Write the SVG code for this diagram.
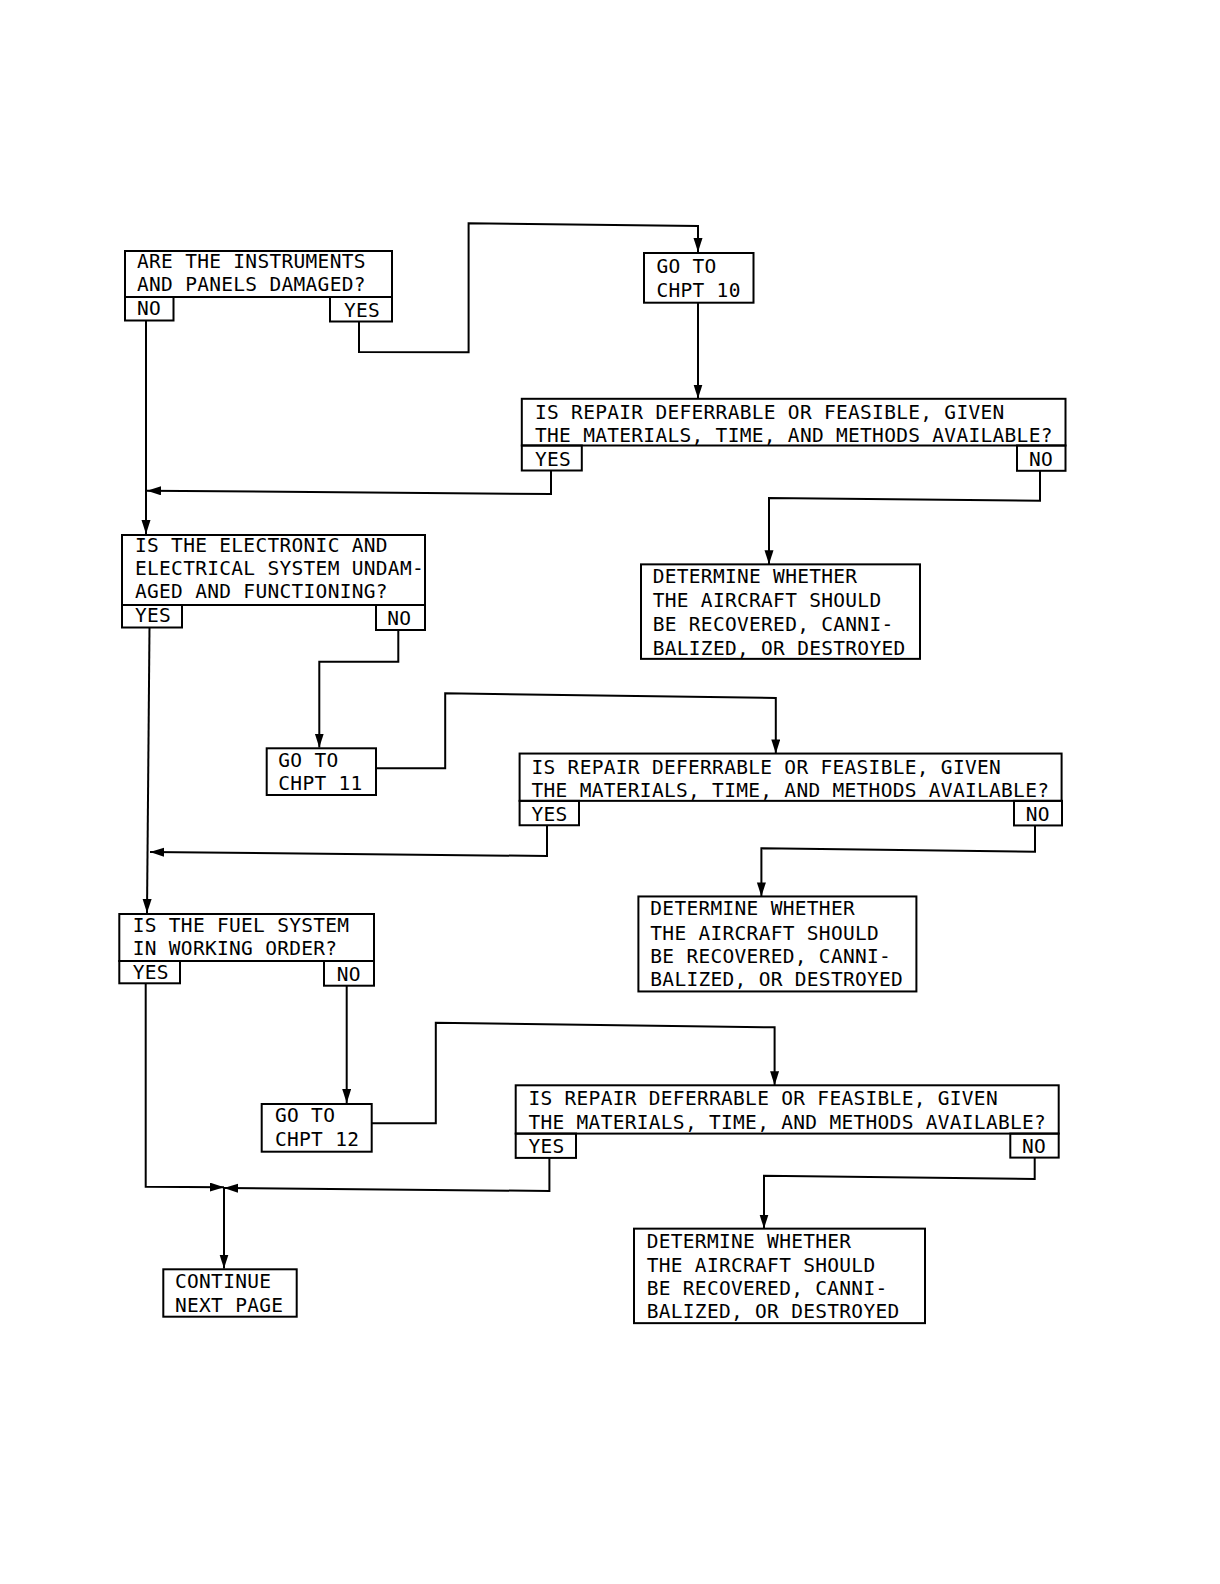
<svg xmlns="http://www.w3.org/2000/svg" width="1220" height="1584" viewBox="0 0 1220 1584">
<style>
rect{fill:none;stroke:#000;stroke-width:2}
text{font-family:"DejaVu Sans Mono","Liberation Mono",monospace;font-size:19.5px;letter-spacing:0.3px;fill:#000}
.c{fill:none;stroke:#000;stroke-width:2}
</style>
<defs>
<marker id="ah" markerUnits="userSpaceOnUse" markerWidth="15" markerHeight="10" refX="14" refY="4.5" orient="auto">
<path d="M0,0 L14,4.5 L0,9 z" fill="#000"/>
</marker>
</defs>
<rect x="0" y="0" width="1220" height="1584" style="fill:#fff;stroke:none"/>

<g id="connectors">
<path class="c" d="M146,320 L146,534" marker-end="url(#ah)"/>
<path class="c" d="M359,322 L359,352 L468.6,352.3 L468.6,223.3 L698,226 L698,252" marker-end="url(#ah)"/>
<path class="c" d="M698,303 L698,398.5" marker-end="url(#ah)"/>
<path class="c" d="M551,470.5 L551,494 L147,490.7" marker-end="url(#ah)"/>
<path class="c" d="M1040,470.8 L1040,500.7 L769,498 L769,564.3" marker-end="url(#ah)"/>
<path class="c" d="M149.5,627 L147,913" marker-end="url(#ah)"/>
<path class="c" d="M398.3,630 L398.3,661.7 L319.3,661.7 L319.3,747.5" marker-end="url(#ah)"/>
<path class="c" d="M376,768.3 L445.2,768.3 L445.2,693.3 L775.8,698 L775.8,753.4" marker-end="url(#ah)"/>
<path class="c" d="M547,825.3 L547,856 L150,852" marker-end="url(#ah)"/>
<path class="c" d="M1035,825.5 L1035,851.7 L761.4,848.3 L761.4,896.4" marker-end="url(#ah)"/>
<path class="c" d="M145.7,983 L145.7,1186.7 L224,1187.2" marker-end="url(#ah)"/>
<path class="c" d="M346.7,986 L346.7,1103" marker-end="url(#ah)"/>
<path class="c" d="M372,1123.3 L435.8,1123.3 L435.8,1022.7 L774.6,1027.3 L774.6,1085.2" marker-end="url(#ah)"/>
<path class="c" d="M549.4,1158 L549.4,1191 L224,1188" marker-end="url(#ah)"/>
<path class="c" d="M1034.7,1157.6 L1034.7,1179 L764,1175.7 L764,1228.5" marker-end="url(#ah)"/>
<path class="c" d="M224,1187.5 L224,1268.5" marker-end="url(#ah)"/>
</g>

<g id="q-instruments">
<rect x="125" y="251" width="267" height="46"/>
<rect x="125" y="297" width="48.5" height="23.5"/>
<rect x="330" y="297" width="62" height="24.5"/>
<text x="137" y="268.3">ARE THE INSTRUMENTS</text>
<text x="137" y="291.2">AND PANELS DAMAGED?</text>
<text x="137" y="315">NO</text>
<text x="344" y="316.5">YES</text>
</g>

<g id="goto10">
<rect x="644" y="253" width="109.5" height="49.7"/>
<text x="656.4" y="273.3">GO TO</text>
<text x="656.4" y="297.3">CHPT 10</text>
</g>

<g id="repair1" transform="translate(0 3.8)">
<rect x="521.8" y="395" width="543.7" height="46.7"/>
<rect x="521.8" y="441.7" width="60" height="25"/>
<rect x="1017" y="441.7" width="48.5" height="25.3"/>
<text x="535" y="415">IS REPAIR DEFERRABLE OR FEASIBLE, GIVEN</text>
<text x="535" y="438.5">THE MATERIALS, TIME, AND METHODS AVAILABLE?</text>
<text x="535" y="462">YES</text>
<text x="1029" y="462">NO</text>
</g>

<g id="determine1" transform="translate(0 1.66)">
<rect x="641" y="562.7" width="279" height="94.5"/>
<text x="652.7" y="581.7">DETERMINE WHETHER</text>
<text x="652.7" y="605.6">THE AIRCRAFT SHOULD</text>
<text x="652.7" y="629.5">BE RECOVERED, CANNI-</text>
<text x="652.7" y="653.3">BALIZED, OR DESTROYED</text>
</g>

<g id="q-electrical">
<rect x="122" y="535" width="303" height="70"/>
<rect x="122" y="605" width="60" height="22.5"/>
<rect x="376" y="605" width="49" height="25"/>
<text x="135" y="552">IS THE ELECTRONIC AND</text>
<text x="135" y="575">ELECTRICAL SYSTEM UNDAM-</text>
<text x="135" y="598">AGED AND FUNCTIONING?</text>
<text x="135" y="622">YES</text>
<text x="387.3" y="624.5">NO</text>
</g>

<g id="goto11">
<rect x="266.7" y="748.3" width="109.3" height="46.7"/>
<text x="278.3" y="766.7">GO TO</text>
<text x="278.3" y="790">CHPT 11</text>
</g>

<g id="repair2" transform="translate(0 3.55)">
<rect x="519.6" y="750" width="542" height="47.3"/>
<rect x="519.6" y="797.3" width="59.4" height="24.4"/>
<rect x="1014" y="797.3" width="48" height="24.6"/>
<text x="531.5" y="770.2">IS REPAIR DEFERRABLE OR FEASIBLE, GIVEN</text>
<text x="531.5" y="793">THE MATERIALS, TIME, AND METHODS AVAILABLE?</text>
<text x="531.5" y="817.8">YES</text>
<text x="1025.7" y="817.8">NO</text>
</g>

<g id="determine2" transform="translate(0 1.46)">
<rect x="638.4" y="895" width="278" height="95"/>
<text x="650.3" y="914">DETERMINE WHETHER</text>
<text x="650.3" y="938.3">THE AIRCRAFT SHOULD</text>
<text x="650.3" y="961.7">BE RECOVERED, CANNI-</text>
<text x="650.3" y="985">BALIZED, OR DESTROYED</text>
</g>

<g id="q-fuel">
<rect x="119.3" y="914" width="254.7" height="47"/>
<rect x="119.3" y="961" width="60.7" height="22.3"/>
<rect x="324" y="961" width="50" height="24.7"/>
<text x="132.7" y="932.2">IS THE FUEL SYSTEM</text>
<text x="132.7" y="955">IN WORKING ORDER?</text>
<text x="132.7" y="978.5">YES</text>
<text x="336.7" y="981">NO</text>
</g>

<g id="goto12">
<rect x="261.7" y="1104" width="110" height="47.7"/>
<text x="275" y="1121.7">GO TO</text>
<text x="275" y="1146">CHPT 12</text>
</g>

<g id="repair3" transform="translate(0 3.6)">
<rect x="515.7" y="1081.7" width="543" height="48.3"/>
<rect x="515.7" y="1130" width="60.3" height="24.3"/>
<rect x="1010.3" y="1130" width="48.4" height="24"/>
<text x="528.4" y="1101.7">IS REPAIR DEFERRABLE OR FEASIBLE, GIVEN</text>
<text x="528.4" y="1125.5">THE MATERIALS, TIME, AND METHODS AVAILABLE?</text>
<text x="528.4" y="1149.6">YES</text>
<text x="1022" y="1149.6">NO</text>
</g>

<g id="determine3" transform="translate(0 1.35)">
<rect x="634" y="1227.3" width="291" height="94.5"/>
<text x="646.7" y="1247">DETERMINE WHETHER</text>
<text x="646.7" y="1270.5">THE AIRCRAFT SHOULD</text>
<text x="646.7" y="1293.8">BE RECOVERED, CANNI-</text>
<text x="646.7" y="1317">BALIZED, OR DESTROYED</text>
</g>

<g id="continue">
<rect x="163.3" y="1269.3" width="133.4" height="47.4"/>
<text x="175" y="1288.3">CONTINUE</text>
<text x="175" y="1311.7">NEXT PAGE</text>
</g>
</svg>
